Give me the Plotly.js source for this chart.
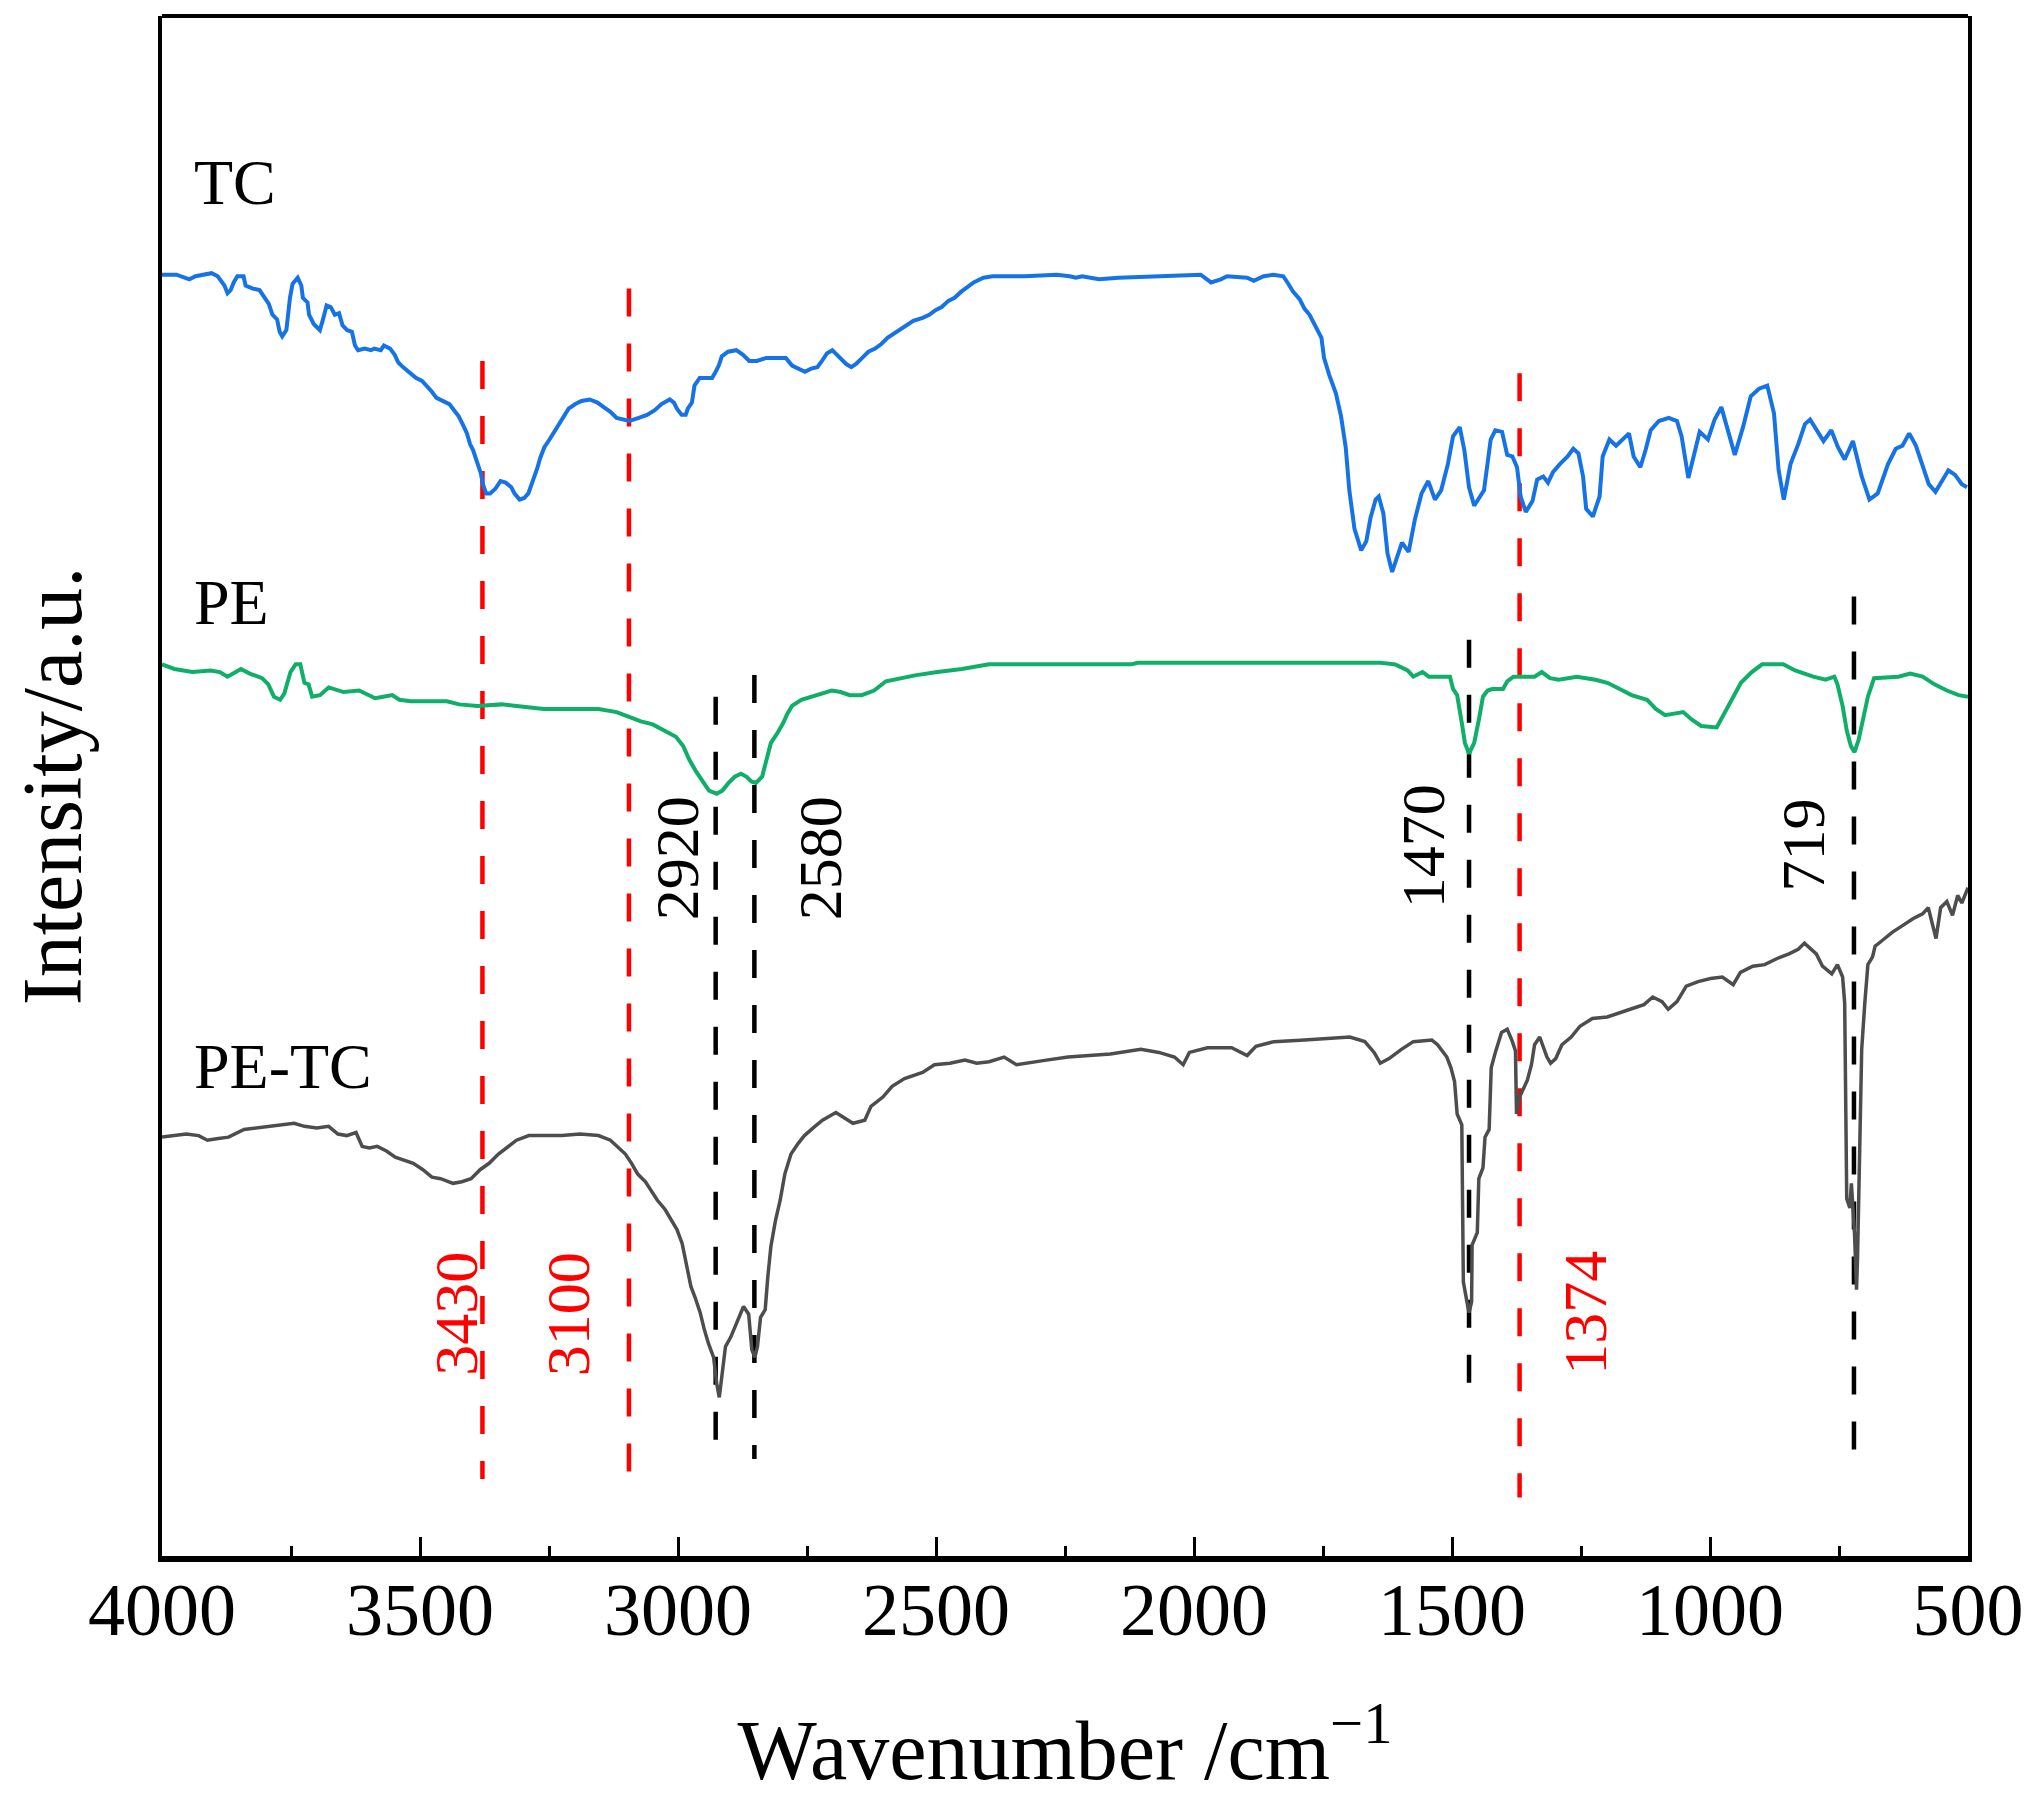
<!DOCTYPE html>
<html>
<head>
<meta charset="utf-8">
<script src="https://cdn.plot.ly/plotly-3.0.1.min.js"></script>
<style>html,body{margin:0;padding:0;background:#fff;}</style>
</head>
<body>
<div id="chart" style="width:2033px;height:1807px;"></div>
<script>
// ---- TC spectrum ----
const tcX = [4000,3972,3947,3935,3904,3892,3879,3873,3867,3861,3854,3842,3838,3824,3811,3801,3793,3786,3777,3772,3767,3759,3752,3747,3737,3730,3727,3718,3715,3706,3700,3694,3688,3681,3673,3665,3657,3650,3641,3632,3626,3620,3607,3595,3589,3576,3570,3558,3549,3542,3533,3521,3508,3496,3487,3477,3468,3455,3443,3434,3425,3416,3409,3403,3397,3391,3382,3379,3372,3364,3354,3344,3334,3323,3317,3307,3298,3290,3282,3273,3267,3259,3249,3240,3230,3220,3212,3199,3187,3171,3156,3144,3131,3119,3107,3094,3076,3060,3045,3032,3016,3008,3002,2993,2985,2981,2973,2968,2958,2946,2934,2927,2921,2915,2903,2887,2874,2862,2847,2829,2791,2779,2767,2754,2742,2730,2721,2711,2701,2692,2684,2674,2664,2655,2643,2631,2618,2606,2594,2581,2569,2557,2544,2526,2513,2501,2489,2476,2464,2451,2439,2427,2408,2390,2328,2266,2241,2229,2217,
  2184,2146,2070,1987,1967,1948,1936,1897,1884,1865,1846,1827,1817,1808,1795,1786,1776,1766,1753,1748,1738,1725,1715,1706,1699,1689,1676,1666,1658,1648,1642,1633,1625,1616,1607,1597,1584,1572,1559,1546,1533,1521,1508,1498,1485,1476,1467,1457,1438,1431,1425,1416,1403,1393,1383,1374,1367,1357,1344,1335,1323,1314,1304,1291,1276,1265,1255,1246,1240,1227,1214,1208,1195,1182,1170,1157,1148,1135,1125,1115,1099,1080,1064,1055,1042,1029,1020,1004,991,978,965,952,936,921,905,889,876,867,857,844,829,816,806,793,780,765,752,739,723,706,691,675,655,640,627,614,601,589,576,563,550,538,525,512,502];
const tcY = [83.2,83.2,82.9,83.1,83.3,83.1,82.5,82.0,82.2,82.7,83.1,83.1,82.5,82.3,82.2,81.7,81.3,80.6,80.3,79.5,79.2,79.6,81.7,82.6,83.0,82.5,81.7,81.4,80.6,80.0,79.8,79.6,80.3,81.2,81.1,80.6,80.7,79.9,79.6,79.5,78.6,78.3,78.4,78.3,78.4,78.3,78.6,78.4,78.0,77.5,77.2,76.9,76.5,76.3,76.0,75.6,75.2,75.0,74.8,74.4,74.0,73.4,72.9,72.2,71.8,71.2,70.3,69.7,69.0,69.0,69.3,69.8,69.7,69.4,69.0,68.6,68.7,69.0,69.7,70.6,71.3,72.0,72.5,73.0,73.6,74.1,74.5,74.8,75.0,75.1,74.9,74.6,74.3,73.9,73.8,73.7,73.9,74.1,74.4,74.8,75.1,74.9,74.5,74.1,74.1,74.5,74.9,76.0,76.5,76.5,76.5,76.9,77.3,77.9,78.2,78.3,78.0,77.6,77.6,77.8,77.8,77.3,77.1,76.9,77.1,77.2,77.6,78.1,78.3,78.0,77.8,77.4,77.2,77.4,77.8,78.2,78.4,78.7,79.1,79.4,79.6,79.9,80.2,80.4,80.6,80.9,81.1,81.5,81.7,82.1,82.4,82.7,83.0,83.1,83.1,83.2,83.1,83.0,83.1,
  82.9,83.0,83.1,83.2,82.7,82.9,83.1,83.0,82.8,83.1,83.2,83.1,82.6,82.1,81.6,81.0,80.6,79.9,79.1,77.8,76.7,75.5,74.0,72.0,69.2,66.7,65.3,65.9,67.4,68.6,68.8,67.7,65.1,63.9,64.8,65.8,65.2,67.3,69.0,69.8,68.6,69.2,70.9,72.7,73.3,71.8,69.4,68.2,69.2,70.9,72.5,73.1,73.0,71.5,71.4,70.7,68.8,67.8,68.5,69.9,70.1,69.7,70.4,70.9,71.4,71.9,71.6,70.1,68.0,67.5,68.8,71.4,72.5,72.1,72.5,72.9,71.4,70.7,71.8,73.1,73.7,73.9,73.7,72.7,70.0,71.7,73.0,72.5,73.8,74.6,73.1,71.5,73.3,75.3,75.8,76.0,74.2,70.5,68.6,70.9,72.2,73.5,73.8,73.1,72.4,73.1,72.0,71.2,72.4,70.1,68.6,69.0,70.9,71.9,72.1,72.9,72.1,70.9,69.6,69.1,69.8,70.5,70.2,69.6,69.4];

// ---- PE spectrum ----
const peX = [4000,3976,3941,3906,3888,3873,3847,3830,3806,3794,3783,3771,3763,3751,3741,3732,3724,3716,3709,3694,3677,3665,3648,3618,3601,3587,3571,3554,3540,3518,3448,3424,3389,3342,3313,3260,3154,3119,3096,3072,3049,3025,3004,2990,2978,2966,2952,2940,2925,2914,2902,2890,2878,2867,2858,2849,2837,2828,2820,2808,2796,2788,2779,2761,2743,2720,2702,2685,2667,2644,2620,2597,2567,2538,2497,2450,2397,2321,
  2279,2121,2109,1997,1868,1739,1639,1610,1586,1575,1557,1545,1504,1498,1490,1481,1475,1467,1457,1448,1440,1431,1422,1401,1393,1381,1340,1326,1310,1293,1258,1222,1199,1175,1152,1122,1105,1087,1052,1035,1017,987,976,958,940,919,899,858,835,800,776,759,753,743,735,727,720,712,703,694,682,635,612,588,565,541,518,500];
const peY = [57.9,57.6,57.4,57.5,57.4,57.1,57.6,57.3,57.0,56.6,55.8,55.6,56.0,57.4,57.9,57.9,56.7,56.6,55.8,55.9,56.4,56.3,56.1,56.2,55.9,55.7,55.8,55.9,55.6,55.5,55.5,55.3,55.2,55.3,55.2,55.0,55.0,54.8,54.5,54.2,54.0,53.6,53.2,52.6,51.7,51.0,50.3,49.7,49.5,49.7,50.2,50.6,50.8,50.6,50.3,50.2,50.6,51.7,52.8,53.4,54.1,54.7,55.2,55.6,55.8,56.0,56.2,56.1,55.9,55.9,56.2,56.8,57.0,57.2,57.4,57.6,57.9,57.9,
  57.9,57.9,58.0,58.0,58.0,58.0,58.0,57.9,57.5,57.1,57.4,57.1,57.1,56.3,55.9,54.1,52.8,52.1,52.8,54.3,55.8,56.2,56.3,56.3,56.8,57.1,57.1,57.4,57.0,56.9,57.1,56.9,56.7,56.3,55.9,55.6,55.0,54.6,54.8,54.3,53.9,53.8,54.5,55.6,56.7,57.4,57.9,57.9,57.5,57.1,56.9,57.1,56.6,55.2,53.6,52.6,52.2,53.0,54.5,55.8,57.0,57.1,57.3,57.1,56.6,56.2,55.9,55.8];

// ---- PE-TC spectrum ----
const petcX = [4000,3976,3953,3929,3912,3894,3871,3841,3818,3788,3765,3744,3724,3700,3677,3659,3642,3624,3612,3598,3583,3565,3548,3530,3513,3495,3477,3460,3436,3419,3401,3383,3366,3348,3330,3313,3289,3260,3225,3190,3154,3131,3119,3102,3090,3078,3063,3051,3040,3025,3013,3002,2992,2984,2975,2967,2957,2949,2941,2931,2925,2920,2914,2908,2898,2890,2882,2873,2863,2857,2851,2846,2840,2831,2826,2820,2811,2802,2793,2781,2767,2755,2738,2720,2694,2679,2661,2638,2626,2603,2585,2561,2526,2503,2473,2444,2421,2397,2368,2344,2321,2286,
  2244,2209,2162,2103,2068,2038,2021,2009,1974,1927,1897,1880,1845,1786,1739,1698,1669,1651,1639,1622,1598,1575,1539,1528,1510,1502,1495,1490,1481,1478,1471,1467,1462,1461,1451,1448,1440,1436,1428,1424,1416,1404,1393,1384,1377,1375,1369,1363,1354,1346,1340,1330,1322,1316,1309,1299,1287,1269,1252,1228,1199,1170,1146,1128,1111,1093,1081,1064,1046,1023,999,976,955,941,917,894,870,847,829,817,806,794,782,764,753,743,739,735,729,726,720,716,714,710,706,700,694,685,680,665,647,624,606,588,577,562,553,541,530,520,512,500];
const petcY = [27.2,27.3,27.4,27.3,27.0,27.1,27.2,27.7,27.8,27.9,28.0,28.1,27.9,27.8,27.9,27.4,27.3,27.5,26.6,26.5,26.6,26.3,25.9,25.7,25.5,25.1,24.6,24.5,24.2,24.3,24.5,25.1,25.5,26.1,26.6,27.0,27.3,27.3,27.3,27.4,27.3,27.0,26.6,26.1,25.5,24.8,24.3,23.7,23.1,22.5,21.8,21.2,20.3,19.0,17.5,16.8,15.8,14.7,13.8,12.9,11.2,10.3,11.9,13.6,14.2,14.8,15.5,16.2,15.7,13.4,12.9,13.6,15.5,16.0,18.1,20.1,21.8,23.1,24.8,26.1,26.8,27.3,27.8,28.3,28.8,28.5,28.1,28.3,29.2,29.8,30.5,31.0,31.4,31.9,32.0,32.2,32.0,32.1,32.4,31.9,32.0,32.2,
  32.4,32.5,32.6,32.9,32.7,32.4,31.9,32.7,33.0,33.0,32.5,33.1,33.4,33.5,33.6,33.7,33.4,32.7,32.0,32.3,32.9,33.4,33.5,33.2,32.4,31.7,30.8,28.7,28.0,17.8,16.5,15.8,16.5,20.2,21.0,24.5,25.2,27.2,27.7,31.7,32.7,34.0,34.2,33.5,32.8,28.7,29.8,30.2,30.9,31.9,33.2,33.7,32.9,32.4,32.0,32.3,33.2,33.7,34.4,34.9,35.0,35.3,35.6,35.8,36.3,36.0,35.5,36.0,37.0,37.3,37.5,37.6,37.1,37.9,38.3,38.4,38.8,39.1,39.4,39.8,39.5,39.1,38.3,37.8,38.4,37.6,35.9,23.2,22.6,24.2,21.0,17.3,19.5,27.2,32.9,35.9,38.4,38.9,39.6,40.0,40.5,41.0,41.4,41.7,42.1,40.1,42.1,42.5,41.6,42.9,42.4,43.4];

// ---- band marker lines ----
const redLineX = [3379, 3095, 1369];
const redLineTop = [77.6, 82.3, 76.8];
const redLineBottom = [5.0, 5.45, 3.8];
const blackLineX = [2927, 2852, 1467, 721];
const blackLineTop = [55.8, 57.2, 59.5, 62.3];
const blackLineBottom = [7.55, 6.3, 11.1, 6.9];

// ---- labels ----
const sampleNames = ['TC', 'PE', 'PE-TC'];
const sampleNameY = [89.2, 61.9, 31.8];
const blackLabels = ['2920', '2580', '1470', '719'];
const blackLabelX = [3002, 2725, 1556, 820];
const blackLabelY = [45.3, 45.3, 46.1, 46.2];
const redLabels = ['3430', '3100', '1374'];
const redLabelX = [3429, 3213, 1242];
const redLabelY = [15.7, 15.7, 15.8];
const xTickVals = [4000, 3500, 3000, 2500, 2000, 1500, 1000, 500];

const FONT = 'Times New Roman, Liberation Serif, serif';
const traces = [];
function dashed(xs, tops, bottoms, color) {
  xs.forEach((x, i) => {
    traces.push({x: [x, x], y: [tops[i], bottoms[i]], mode: 'lines', type: 'scatter',
      line: {color: color, width: 4.5, dash: '28px,27px'}, hoverinfo: 'skip', showlegend: false});
  });
}
dashed(redLineX, redLineTop, redLineBottom, '#ff0000');
dashed(blackLineX, blackLineTop, blackLineBottom, '#000000');
traces.push({x: tcX, y: tcY, mode: 'lines', type: 'scatter', name: 'TC', line: {color: '#1673e6', width: 4}});
traces.push({x: peX, y: peY, mode: 'lines', type: 'scatter', name: 'PE', line: {color: '#0fae69', width: 4}});
traces.push({x: petcX, y: petcY, mode: 'lines', type: 'scatter', name: 'PE-TC', line: {color: '#4d4d4d', width: 3.5}});

const annotations = [];
sampleNames.forEach((t, i) => annotations.push({x: 3942, y: sampleNameY[i], xref: 'x', yref: 'y', text: t,
  showarrow: false, xanchor: 'left', yanchor: 'middle', font: {family: FONT, size: 64, color: '#000'}}));
blackLabels.forEach((t, i) => annotations.push({x: blackLabelX[i], y: blackLabelY[i], xref: 'x', yref: 'y', text: t,
  showarrow: false, textangle: -90, xanchor: 'center', yanchor: 'middle', font: {family: FONT, size: 62, color: '#000'}}));
redLabels.forEach((t, i) => annotations.push({x: redLabelX[i], y: redLabelY[i], xref: 'x', yref: 'y', text: t,
  showarrow: false, textangle: -90, xanchor: 'center', yanchor: 'middle', font: {family: FONT, size: 62, color: '#ff0000'}}));

const layout = {
  width: 2033, height: 1807,
  margin: {l: 162, r: 65, t: 16, b: 251},
  paper_bgcolor: '#ffffff', plot_bgcolor: '#ffffff',
  showlegend: false,
  font: {family: FONT, color: '#000'},
  xaxis: {
    range: [4000, 500], autorange: false,
    tickmode: 'array', tickvals: xTickVals, ticktext: xTickVals.map(String),
    ticks: 'inside', ticklen: 19, tickwidth: 3, tickcolor: '#000',
    minor: {dtick: 250, tick0: 0, ticks: 'inside', ticklen: 10, tickwidth: 3, tickcolor: '#000'},
    showline: true, linecolor: '#000', linewidth: 6, mirror: false,
    showgrid: false, zeroline: false,
    tickfont: {family: FONT, size: 74, color: '#000'},
    ticklabelstandoff: -16,
    title: {text: 'Wavenumber /cm<sup>\u22121</sup>', font: {family: FONT, size: 84, color: '#000'}, standoff: 72}
  },
  yaxis: {
    range: [0, 100], autorange: false,
    showticklabels: false, ticks: '',
    showline: true, linecolor: '#000', linewidth: 4, mirror: true,
    showgrid: false, zeroline: false,
    title: {text: 'Intensity/a.u.', font: {family: FONT, size: 84, color: '#000'}, standoff: 50}
  },
  shapes: [{type: 'line', xref: 'paper', yref: 'paper', x0: 0, x1: 1, y0: 1, y1: 1, line: {color: '#000', width: 4}}],
  annotations: annotations
};
Plotly.newPlot('chart', traces, layout, {displayModeBar: false, staticPlot: true});
</script>
</body>
</html>
